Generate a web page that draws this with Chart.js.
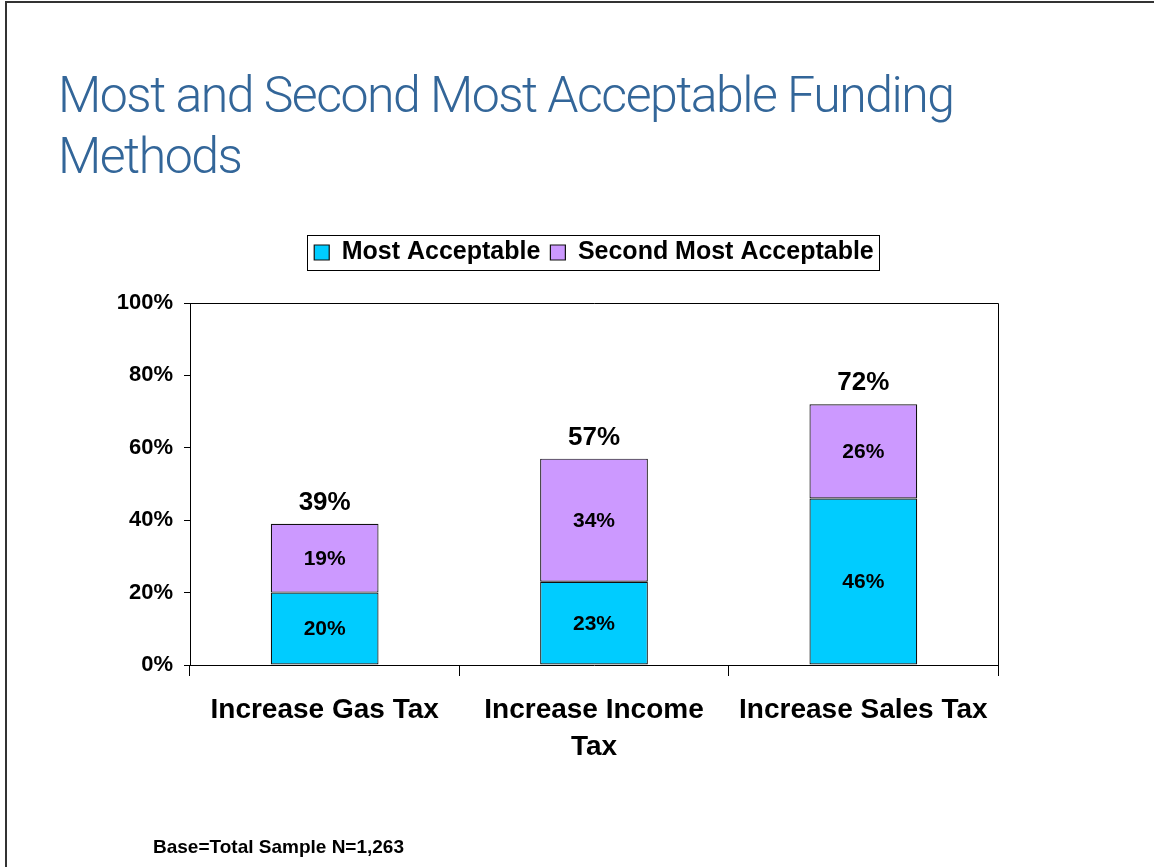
<!DOCTYPE html>
<html>
<head>
<meta charset="utf-8">
<title>Most and Second Most Acceptable Funding Methods</title>
<script src="https://cdn.jsdelivr.net/npm/chart.js@4"></script>
<style>
  html, body { margin: 0; padding: 0; background: #fff; }
  #slide { position: relative; width: 1154px; height: 867px; overflow: hidden; }
  #frame { position: absolute; left: 5px; top: 1px; right: -10px; bottom: -10px;
           border-top: 2px solid #333; border-left: 2px solid #333; }
  #title { position: absolute; left: 58px; top: 65px; margin: 0; letter-spacing: -1.5px;
           font: 300 50px/61px Roboto, "Liberation Sans", sans-serif; color: #336699; }
  #note { position: absolute; left: 153px; top: 837px;
          font: bold 19px/19px "Liberation Sans", Arial, sans-serif; color: #000; }
  #chartBox { position: absolute; left: 0; top: 0; width: 1154px; height: 867px; }
</style>
</head>
<body>
<div id="slide">
  <div id="frame"></div>
  <h1 id="title">Most and Second Most Acceptable Funding<br>Methods</h1>
  <div id="chartBox"><canvas id="fundingBar"></canvas></div>
  <div id="note">Base=Total Sample N=1,263</div>
</div>
<script>
const categories = ['Increase Gas Tax', ['Increase Income', 'Tax'], 'Increase Sales Tax'];
const mostAcceptable = [20, 23, 46];
const secondMostAcceptable = [19, 34, 26];
const yTickValues = [0, 20, 40, 60, 80, 100];

const FONT = '"Liberation Sans", Arial, sans-serif';

// extra room under the legend, and a frame round it
const legendBox = {
  id: 'legendBox',
  beforeInit(chart) {
    const fit = chart.legend.fit;
    chart.legend.fit = function () {
      fit.bind(chart.legend)();
      this.height += 28;
    };
  },
  afterDraw(chart) {
    const boxes = chart.legend.legendHitBoxes;
    if (!boxes || !boxes.length) return;
    const left = Math.min(...boxes.map(b => b.left)) - 7;
    const right = Math.max(...boxes.map(b => b.left + b.width)) + 5;
    const top = Math.min(...boxes.map(b => b.top)) - 5;
    const bottom = Math.max(...boxes.map(b => b.top + b.height)) + 5;
    const ctx = chart.ctx;
    ctx.save();
    ctx.strokeStyle = '#000';
    ctx.lineWidth = 1;
    ctx.strokeRect(Math.round(left) + 0.5, Math.round(top) + 0.5,
                   Math.round(right - left), Math.round(bottom - top));
    ctx.restore();
  }
};

// top and right edges of the plot box
const plotFrame = {
  id: 'plotFrame',
  afterDraw(chart) {
    const a = chart.chartArea;
    const ctx = chart.ctx;
    ctx.save();
    ctx.strokeStyle = '#000';
    ctx.lineWidth = 1;
    ctx.beginPath();
    ctx.moveTo(Math.round(a.left), Math.round(a.top) + 0.5);
    ctx.lineTo(Math.round(a.right) + 0.5, Math.round(a.top) + 0.5);
    ctx.lineTo(Math.round(a.right) + 0.5, Math.round(a.bottom));
    ctx.stroke();
    ctx.restore();
  }
};

// segment values inside the bars, totals on top
const valueLabels = {
  id: 'valueLabels',
  afterDatasetsDraw(chart) {
    const ctx = chart.ctx;
    const yScale = chart.scales.y;
    ctx.save();
    ctx.fillStyle = '#000';
    ctx.textAlign = 'center';
    chart.data.datasets.forEach((ds, i) => {
      const meta = chart.getDatasetMeta(i);
      ctx.font = 'bold 21px ' + FONT;
      ctx.textBaseline = 'middle';
      meta.data.forEach((bar, j) => {
        ctx.fillText(ds.data[j] + '%', bar.x, (bar.y + bar.base) / 2 + 1);
      });
    });
    const topMeta = chart.getDatasetMeta(chart.data.datasets.length - 1);
    ctx.font = 'bold 26px ' + FONT;
    ctx.textBaseline = 'alphabetic';
    topMeta.data.forEach((bar, j) => {
      const total = chart.data.datasets.reduce((s, ds) => s + ds.data[j], 0);
      ctx.fillText(total + '%', bar.x, yScale.getPixelForValue(total) - 14);
    });
    ctx.restore();
  }
};

new Chart(document.getElementById('fundingBar'), {
  type: 'bar',
  data: {
    labels: categories,
    datasets: [{
      label: 'Most Acceptable',
      data: mostAcceptable,
      backgroundColor: '#00CCFF',
      borderColor: '#111',
      borderWidth: 1.2,
      borderSkipped: false
    }, {
      label: 'Second Most Acceptable',
      data: secondMostAcceptable,
      backgroundColor: '#CC99FF',
      borderColor: '#111',
      borderWidth: 1.2,
      borderSkipped: false
    }]
  },
  options: {
    responsive: true,
    maintainAspectRatio: false,
    animation: false,
    barPercentage: 0.4,
    categoryPercentage: 1.0,
    layout: { padding: { top: 230, right: 156, left: 0, bottom: 0 } },
    plugins: {
      legend: {
        position: 'top',
        fullSize: false,
        labels: {
          color: '#000',
          font: { family: FONT, size: 25, weight: 'bold' },
          boxWidth: 15,
          boxHeight: 15,
          padding: 10
        }
      },
      tooltip: { enabled: false }
    },
    scales: {
      x: {
        stacked: true,
        grid: { drawOnChartArea: false, drawTicks: true, tickLength: 11, color: '#000' },
        border: { display: true, color: '#000', width: 1 },
        ticks: {
          color: '#000',
          padding: 16,
          maxRotation: 0,
          font: { family: FONT, size: 28, weight: 'bold', lineHeight: 1.32 }
        },
        afterFit(scale) { scale.height = 202; }
      },
      y: {
        stacked: true,
        min: 0,
        max: 100,
        afterBuildTicks(scale) { scale.ticks = yTickValues.map(v => ({ value: v })); },
        grid: { drawOnChartArea: false, drawTicks: true, tickLength: 6, color: '#000' },
        border: { display: true, color: '#000', width: 1 },
        ticks: {
          color: '#000',
          padding: 11,
          font: { family: FONT, size: 22, weight: 'bold' },
          callback: v => v + '%'
        },
        afterFit(scale) { scale.width = 190; }
      }
    }
  },
  plugins: [legendBox, plotFrame, valueLabels]
});
</script>
</body>
</html>
